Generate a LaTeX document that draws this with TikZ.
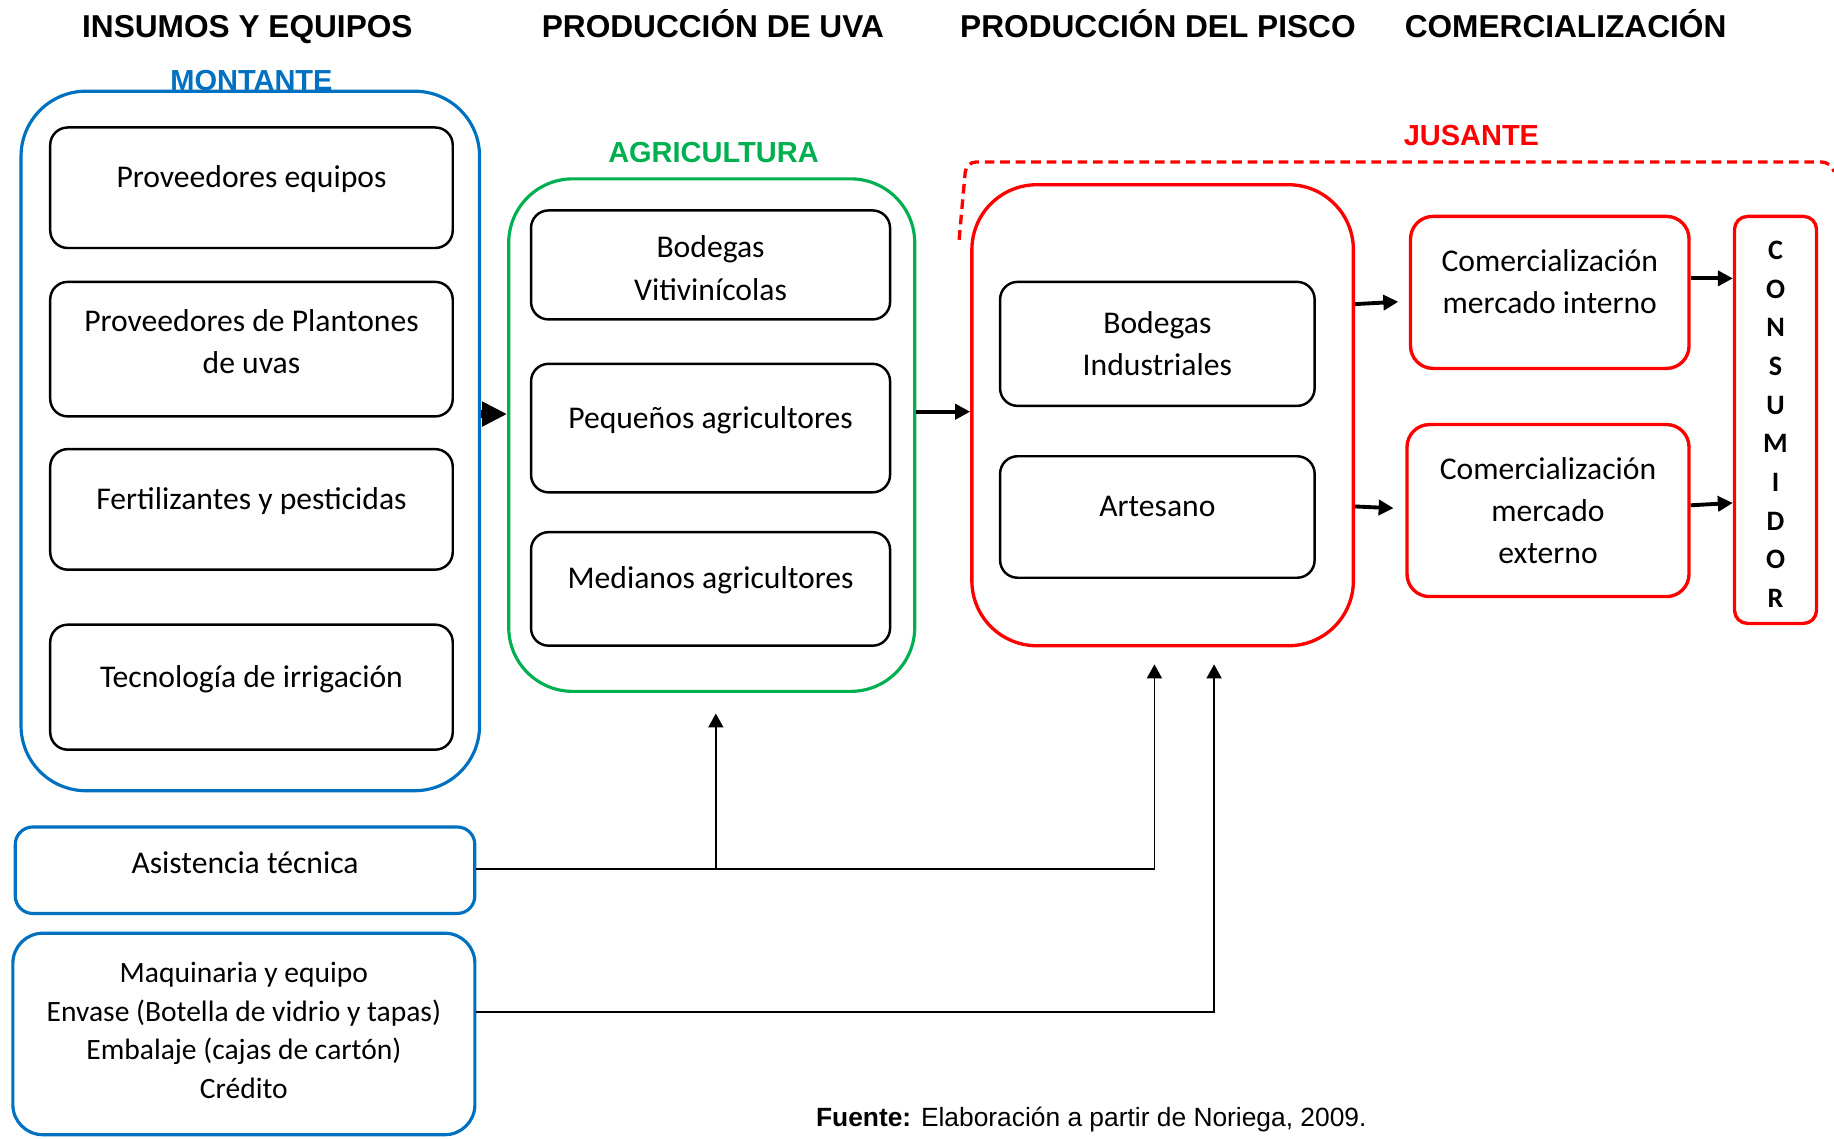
\documentclass[tikz,border=0pt]{standalone}
\usepackage{fontspec}
\setmainfont{Carlito}
\newfontfamily\arialfont{Liberation Sans}
\usetikzlibrary{arrows.meta,calc}
\definecolor{montblue}{RGB}{0,112,192}
\definecolor{agrigreen}{RGB}{0,176,80}
\definecolor{jusred}{RGB}{255,0,0}
\newcommand{\liftup}[2]{\raisebox{#1}[\height][\depth]{\begin{tabular}{@{}c@{}}#2\end{tabular}}}
\tikzset{
  boxtext/.style={align=center, font=\fontsize{18}{24}\selectfont},
  onel/.style={text height=0.45em, text depth=0.45em},
  inbox/.style={boxtext, draw=black, line width=1.4pt, rounded corners=0.35cm},
  groupbox/.style={draw=#1, line width=1.8pt, rounded corners=1.3cm},
  redbox/.style={boxtext, draw=jusred, line width=1.9pt, rounded corners=0.45cm},
  bluebox/.style={boxtext, draw=montblue, line width=1.8pt},
  header/.style={font=\arialfont\bfseries\fontsize{18}{22}\selectfont, anchor=base},
  grouplabel/.style={font=\arialfont\bfseries\fontsize{16.5}{20}\selectfont, anchor=base, text=#1},
  fatarrow/.style={line width=5pt, -{Triangle[length=0.5cm,width=0.47cm]}},
  midarrow/.style={line width=2.2pt, -{Triangle[length=0.3cm,width=0.3cm]}},
  thinarrow/.style={line width=1pt, -{Triangle[length=0.28cm,width=0.3cm]}},
}

\begin{document}
\begin{tikzpicture}[x=0.023392cm, y=-0.023392cm]
        \useasboundingbox (0,0) rectangle (1568,973);

        \node (h1) [header] at (211.5,32) {INSUMOS Y EQUIPOS};
        \node (h2) [header] at (609.5,32) {PRODUCCIÓN DE UVA};
        \node (h3) [header] at (990,32) {PRODUCCIÓN DEL PISCO};
        \node (h4) [header] at (1338.5,32) {COMERCIALIZACIÓN};

        \node (mont) [groupbox=montblue, minimum width=9.17cm, minimum height=13.99cm] at (214,377) {};
        \node (pe) [inbox, onel, minimum width=8.05cm, minimum height=2.41cm] at (215,160.5) {Proveedores equipos};
        \node (pp) [inbox, minimum width=8.05cm, minimum height=2.69cm] at (215,298.5) {\liftup{3pt}{Proveedores de Plantones\\de uvas}};
        \node (fp) [inbox, onel, minimum width=8.05cm, minimum height=2.41cm] at (215,435.5) {Fertilizantes y pesticidas};
        \node (ti) [inbox, onel, minimum width=8.05cm, minimum height=2.50cm] at (215,587.5) {Tecnología de irrigación};

        \node (agri) [groupbox=agrigreen, rounded corners=1.28cm, minimum width=8.12cm, minimum height=10.25cm] at (608.5,372) {};
        \node (bv) [inbox, minimum width=7.18cm, minimum height=2.18cm] at (607.5,226.5) {\liftup{-3.2pt}{Bodegas\\Vitivinícolas}};
        \node (pa) [inbox, onel, minimum width=7.18cm, minimum height=2.57cm] at (607.5,366) {Pequeños agricultores};
        \node (ma) [inbox, onel, minimum width=7.18cm, minimum height=2.27cm] at (607.5,503.5) {Medianos agricultores};

        \node (jus) [groupbox=jusred, line width=1.9pt, minimum width=7.63cm, minimum height=9.22cm] at (994,355) {};
        \node (bi) [inbox, minimum width=6.29cm, minimum height=2.48cm] at (989.5,294) {Bodegas\\Industriales};
        \node (ar) [inbox, onel, minimum width=6.29cm, minimum height=2.43cm] at (989.5,442) {Artesano};

        \node (ci) [redbox, minimum width=5.57cm, minimum height=3.04cm] at (1325,250) {\liftup{4.8pt}{Comercialización\\mercado interno}};
        \node (ce) [redbox, minimum width=5.64cm, minimum height=3.44cm] at (1323.5,436.5) {Comercialización\\mercado\\externo};
        \node (cons) [redbox, rounded corners=0.26cm, minimum width=1.64cm, minimum height=8.14cm,
                      font=\bfseries\fontsize{16}{22}\selectfont] at (1518,359) {\liftup{-3.4pt}{C\\O\\N\\S\\U\\M\\I\\D\\O\\R}};

        \node (at) [bluebox, rounded corners=0.35cm, minimum width=9.19cm, minimum height=1.73cm,
                    text height=12.1pt, text depth=8.1pt] at (209.5,744) {Asistencia técnica};
        \node (mq) [bluebox, rounded corners=0.6cm, minimum width=9.24cm, minimum height=4.03cm,
                    font=\fontsize{16.8}{22}\selectfont] at (208.5,884) {\liftup{0.6pt}{Maquinaria y equipo\\Envase (Botella de vidrio y tapas)\\Embalaje (cajas de cartón)\\Crédito}};

        \node (lmont) [grouplabel=montblue] at (215,77) {MONTANTE};
        \node (lagri) [grouplabel=agrigreen] at (610,139) {AGRICULTURA};
        \node (ljus) [grouplabel=jusred] at (1258,124) {JUSANTE};

        \draw[jusred, line width=1.9pt, dash pattern=on 5.5pt off 3.3pt, rounded corners=0.2cm]
            (820,205) -- (826,138.5) -- (1566,138.5) -- (1568,146);

        \draw[fatarrow] (mont.east |- 0,354) -- (agri.west |- 0,354);
        \draw[midarrow] (agri.east |- 0,352) -- (jus.west |- 0,352);
        \draw[midarrow] (jus.east |- 0,260) -- ($(ci.west)+(-9,8)$);
        \draw[midarrow] (jus.east |- 0,433) -- ($(ce.west)+(-10,-2)$);
        \draw[midarrow] (ci.east |- 0,238) -- (cons.west |- 0,238);
        \draw[midarrow] (ce.east |- 0,432) -- (cons.west |- 0,430);

        \coordinate (ja) at (987,568);
        \coordinate (jb) at (1038,568);
        \coordinate (ga) at (612,610);
        \draw[thinarrow] (at.east |- 0,743) -| (ja);
        \draw[thinarrow] (ga |- 0,743) -- (ga);
        \draw[thinarrow] (mq.east |- 0,865) -| (jb);

        \node (src) [font=\arialfont\fontsize{15}{18}\selectfont, anchor=base] at (933,963) {\textbf{Fuente:} Elaboración a partir de Noriega, 2009.};
    \end{tikzpicture}
\end{document}
